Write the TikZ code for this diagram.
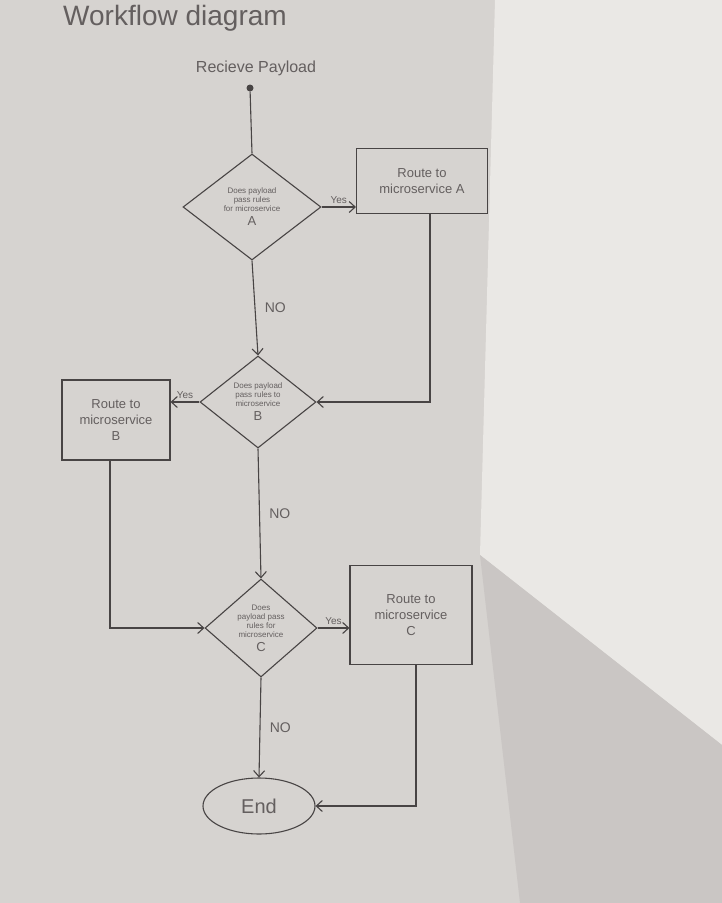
\documentclass[tikz,border=0pt]{standalone}
\usepackage{fontspec}
\setmainfont{Liberation Sans}
\usetikzlibrary{shapes.geometric,arrows.meta}
\definecolor{paper}{RGB}{214,211,208}
\definecolor{paperlight}{RGB}{234,232,229}
\definecolor{papershade}{RGB}{202,198,196}
\definecolor{pencil}{RGB}{72,68,68}
\definecolor{pencilt}{RGB}{100,95,95}

\begin{document}
\begin{tikzpicture}[x=1pt, y=-1pt,
    every node/.style={text=pencilt},
    decision/.style={diamond, draw=pencil, line width=1.1pt, align=center, inner sep=0pt, font=\fontsize{8}{9}\selectfont},
    process/.style={rectangle, draw=pencil, line width=1.1pt, align=center, inner sep=2pt, font=\fontsize{13}{16}\selectfont},
    flow/.style={draw=pencil, line width=1.1pt, -{Straight Barb[length=6pt,width=11pt]}},
    yeslbl/.style={above, font=\fontsize{10}{10}\selectfont},
    nolbl/.style={right, xshift=6pt, font=\fontsize{14}{14}\selectfont}]
        \useasboundingbox (0,0) rectangle (722,903);
        % paper and light
        \fill[paper] (0,0) rectangle (722,903);
        \fill[paperlight] (495,0) -- (722,0) -- (722,745) -- (480,555) -- cycle;
        \fill[papershade] (480,555) -- (722,745) -- (722,903) -- (520,903) -- cycle;

        \node[anchor=base, font=\fontsize{28}{28}\selectfont] (title) at (175,25) {Workflow diagram};
        \node[anchor=base, font=\fontsize{16}{16}\selectfont] (recv) at (256,72) {Recieve Payload};
        \node[circle, fill=pencil, inner sep=0pt, minimum size=7pt] (start) at (250,88) {};

        \node[decision, minimum width=138pt, minimum height=106pt] (decA) at (252,207)
            {Does payload\\pass rules\\for microservice\\[4pt]{\fontsize{13}{13}\selectfont A}};
        \node[process, minimum width=131pt, minimum height=65pt] (boxA) at (422,181) {Route to\\microservice A};
        \node[decision, minimum width=116pt, minimum height=92pt] (decB) at (258,402)
            {Does payload\\pass rules to\\microservice\\[4pt]{\fontsize{13}{13}\selectfont B}};
        \node[process, minimum width=108pt, minimum height=80pt] (boxB) at (116,420) {Route to\\microservice\\B};
        \node[decision, minimum width=112pt, minimum height=98pt] (decC) at (261,628)
            {Does\\payload pass\\rules for\\microservice\\[4pt]{\fontsize{13}{13}\selectfont C}};
        \node[process, minimum width=122pt, minimum height=99pt] (boxC) at (411,615) {Route to\\microservice\\C};
        \node[ellipse, draw=pencil, line width=1.1pt, minimum width=112pt, minimum height=56pt, font=\fontsize{20}{20}\selectfont] (endn) at (259,806) {End};

        \draw[pencil, line width=1.1pt] (start) -- (decA.north);
        \draw[flow] (decA.east) -- node[yeslbl] {Yes} (decA.east -| boxA.west);
        \draw[flow] (decA.south) -- node[nolbl] {NO} (decB.north);
        \draw[flow] ([xshift=8pt]boxA.south) |- (decB.east);
        \draw[flow] (decB.west) -- node[yeslbl] {Yes} (decB.west -| boxB.east);
        \draw[flow] (decB.south) -- node[nolbl] {NO} (decC.north);
        \draw[flow] ([xshift=-6pt]boxB.south) |- (decC.west);
        \draw[flow] (decC.east) -- node[yeslbl] {Yes} (decC.east -| boxC.west);
        \draw[flow] (decC.south) -- node[nolbl] {NO} (endn.north);
        \draw[flow] ([xshift=5pt]boxC.south) |- (endn.east);
\end{tikzpicture}
\end{document}
